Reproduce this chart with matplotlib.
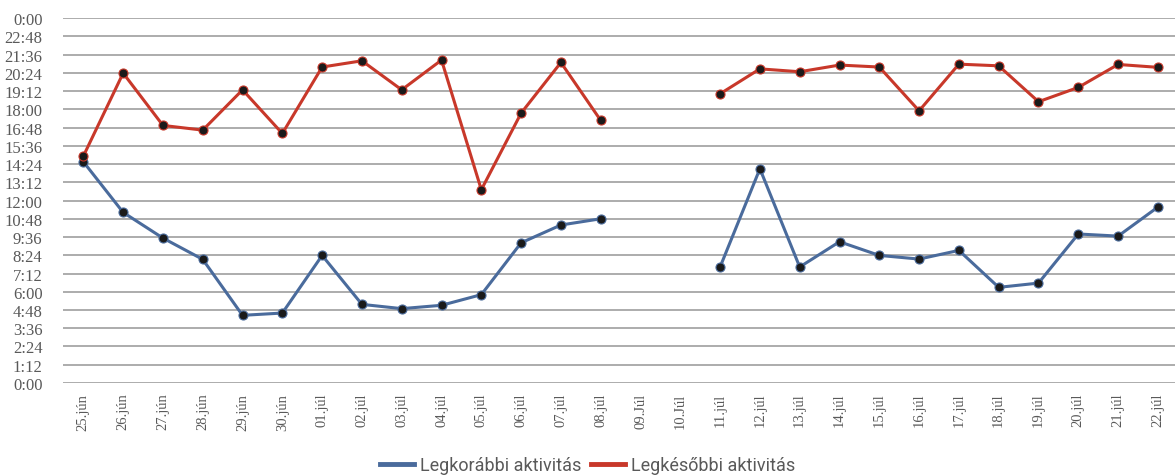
import numpy as np
import matplotlib.pyplot as plt

# daily earliest / latest activity, in hours of the day
days = ['25.jún', '26.jún', '27.jún', '28.jún', '29.jún', '30.jún',
        '01.júl', '02.júl', '03.júl', '04.júl', '05.júl', '06.júl', '07.júl', '08.júl',
        '09.Júl', '10.Júl', '11.júl', '12.júl', '13.júl', '14.júl', '15.júl', '16.júl',
        '17.júl', '18.júl', '19.júl', '20.júl', '21.júl', '22.júl']

earliest = [14.55, 11.22, 9.53, 8.13, 4.45, 4.60,
            8.39, 5.17, 4.89, 5.11, 5.81, 9.22, 10.39, 10.80,
            np.nan, np.nan, 7.63, 14.09, 7.63, 9.29, 8.39, 8.15,
            8.72, 6.29, 6.57, 9.80, 9.66, 11.57]

latest = [14.92, 20.38, 16.94, 16.63, 19.28, 16.41,
          20.78, 21.19, 19.28, 21.24, 12.71, 17.75, 21.08, 17.27,
          np.nan, np.nan, 19.02, 20.66, 20.47, 20.91, 20.78, 17.90,
          20.97, 20.86, 18.50, 19.44, 20.95, 20.76]

blue = '#4a6b9c'
red = '#c8382a'
text_col = '#595959'
serif = ['Liberation Serif', 'DejaVu Serif']

fig = plt.figure(figsize=(11.75, 4.77), dpi=100)
ax = fig.add_axes([0.054, 0.195, 0.946, 0.765])

x = np.arange(len(days))
ax.plot(x, earliest, color=blue, lw=2.2, marker='o', ms=6.5,
        mfc='#1a1a1a', mec=blue, mew=0.8, label='Legkorábbi aktivitás', zorder=3)
ax.plot(x, latest, color=red, lw=2.2, marker='o', ms=6.5,
        mfc='#1a1a1a', mec=red, mew=0.8, label='Legkésőbbi aktivitás', zorder=3)

# y axis: 0:00 .. 24:00 in 72-minute steps
yt = np.arange(0, 24.01, 1.2)
ylabels = []
for v in yt:
    m = int(round(v * 60)) % (24 * 60)
    ylabels.append(f'{m // 60}:{m % 60:02d}')
ax.set_yticks(yt)
ax.set_yticklabels(ylabels, fontfamily=serif, fontsize=12, color=text_col)
ax.set_ylim(0, 24)

ax.set_xticks(x)
ax.set_xticklabels(days, rotation=90, fontfamily=serif, fontsize=10.5,
                   color=text_col, va='top')
ax.set_xlim(-0.5, 27.43)

ax.grid(axis='y', color='#a6a6a6', lw=1.3)
ax.set_axisbelow(True)
ax.tick_params(length=0)
ax.tick_params(axis='y', pad=15)
ax.tick_params(axis='x', pad=7)
for s in ax.spines.values():
    s.set_visible(False)

fig.legend(loc='center', bbox_to_anchor=(0.5, 0.023), ncol=2, frameon=False,
           prop={'family': ['Roboto', 'DejaVu Sans'], 'size': 13},
           handlelength=1.9, handletextpad=0.35, columnspacing=0.5,
           labelcolor=text_col)
for h in fig.legends[0].legend_handles:
    h.set_marker('')
    h.set_linewidth(3.5)

fig.savefig('out.png', dpi=100)
